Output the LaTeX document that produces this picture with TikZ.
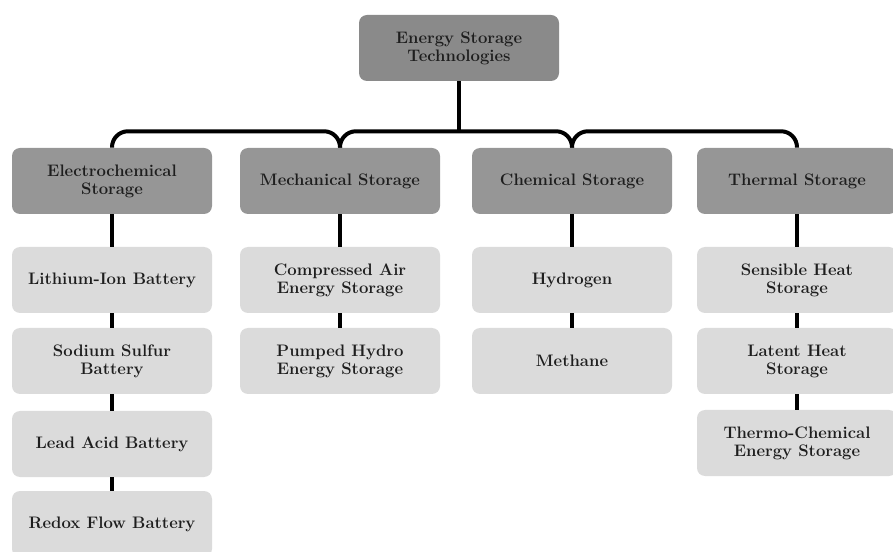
\documentclass[tikz,border=0pt]{standalone}
\usepackage{tikz}

\definecolor{headgray}{RGB}{150,150,150}
\definecolor{rootgray}{RGB}{138,138,138}
\definecolor{itemgray}{RGB}{219,219,219}
\definecolor{inkgray}{RGB}{30,30,30}

\begin{document}
\begin{tikzpicture}[
            x=0.75pt, y=-0.75pt,
            box/.style={rounded corners=6pt, minimum width=150pt, minimum height=49.5pt,
                align=center, inner sep=2pt, text=inkgray,
                font=\fontsize{12.5}{13.5}\selectfont\bfseries},
            root box/.style={box, fill=rootgray},
            cat box/.style={box, fill=headgray},
            item box/.style={box, fill=itemgray},
            trunk/.style={line width=3pt, rounded corners=12pt},
            link/.style={line width=3pt},
        ]
        \useasboundingbox (0,0) rectangle (893,552);
        \def\colA{112}
        \def\colB{340}
        \def\colC{572}
        \def\colD{797}

        % root and categories
        \node[root box] (est) at (459,48) {Energy Storage\\Technologies};
        \node[cat box] (elec) at (\colA,181) {Electrochemical\\Storage};
        \node[cat box] (mech) at (\colB,181) {Mechanical Storage};
        \node[cat box] (chem) at (\colC,181) {Chemical Storage};
        \node[cat box] (therm) at (\colD,181) {Thermal Storage};

        % technologies
        \node[item box] (liion) at (\colA,280) {Lithium-Ion Battery};
        \node[item box] (nas) at (\colA,361) {Sodium Sulfur\\Battery};
        \node[item box] (lead) at (\colA,444) {Lead Acid Battery};
        \node[item box] (redox) at (\colA,524) {Redox Flow Battery};

        \node[item box] (caes) at (\colB,280) {Compressed Air\\Energy Storage};
        \node[item box] (phes) at (\colB,361) {Pumped Hydro\\Energy Storage};

        \node[item box] (hydrogen) at (\colC,280) {Hydrogen};
        \node[item box] (methane) at (\colC,361) {Methane};

        \node[item box] (sensible) at (\colD,280) {Sensible Heat\\Storage};
        \node[item box] (latent) at (\colD,361) {Latent Heat\\Storage};
        \node[item box] (thermochem) at (\colD,443) {Thermo-Chemical\\Energy Storage};

        % brace under the root
        \path (est.south) ++(0,50) coordinate (hub);
        \draw[link] (est.south) -- (hub);
        \draw[trunk] (elec.north) |- (mech.north |- hub) -- (mech.north);
        \draw[trunk] (mech.north) |- (chem.north |- hub) -- (chem.north);
        \draw[trunk] (chem.north) |- (therm.north |- hub) -- (therm.north);

        \foreach \a/\b in {elec/liion, liion/nas, nas/lead, lead/redox,
                mech/caes, caes/phes, chem/hydrogen, hydrogen/methane,
                therm/sensible, sensible/latent, latent/thermochem}
            \draw[link] (\a.south) -- (\b.north);
        \end{tikzpicture}
\end{document}
